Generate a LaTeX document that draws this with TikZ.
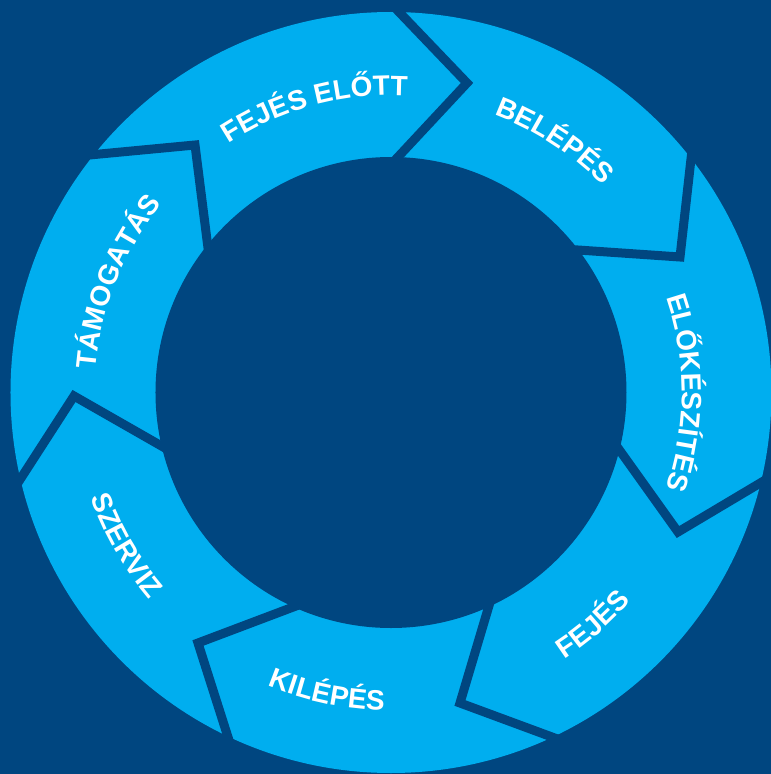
\documentclass[tikz,border=0pt]{standalone}
\usepackage{fontspec}
\setmainfont{Liberation Sans}
\usetikzlibrary{decorations.text}

\definecolor{navyblue}{RGB}{0,70,128}
\definecolor{ringblue}{RGB}{0,174,239}
\newcommand{\ringfont}{\fontsize{28}{30}\selectfont\bfseries\color{white}}

\begin{document}
\begin{tikzpicture}[x=1pt, y=1pt,
    divider/.style={draw=navyblue, line width=9pt, line join=miter, shorten <=-30pt, shorten >=-30pt},
    ringlabel/.style={decorate, decoration={text along path, text align=center, text={|\ringfont|#1}}}]
    % Background and ring
    \fill[navyblue] (-391,-381.5) rectangle (380,392.5);
    \useasboundingbox (-391,-381.5) rectangle (380,392.5);
    \fill[ringblue] (0,0) circle[radius=380.5pt];

    % Divider corners: outer edge, arrow tip, inner edge
    \coordinate (a-out) at (-291,238.5);
    \coordinate (a-tip) at (-196,247.5);
    \coordinate (a-in)  at (-184,152.5);
    \coordinate (b-out) at (9,379.5);
    \coordinate (b-tip) at (76,309.5);
    \coordinate (b-in)  at (7,235.5);
    \coordinate (c-out) at (300,233.5);
    \coordinate (c-tip) at (289,135.5);
    \coordinate (c-in)  at (187,142.5);
    \coordinate (d-out) at (376,-86.5);
    \coordinate (d-tip) at (287,-139.5);
    \coordinate (d-in)  at (232,-62.5);
    \coordinate (e-out) at (161,-344.5);
    \coordinate (e-tip) at (69,-310.5);
    \coordinate (e-in)  at (97,-216.5);
    \coordinate (f-out) at (-164,-341.5);
    \coordinate (f-tip) at (-193,-250.5);
    \coordinate (f-in)  at (-103,-216.5);
    \coordinate (g-out) at (-368,-82.5);
    \coordinate (g-tip) at (-317,-3.5);
    \coordinate (g-in)  at (-233,-51.5);

    \draw[divider] (a-out) -- (a-tip) -- (a-in);
    \draw[divider] (b-out) -- (b-tip) -- (b-in);
    \draw[divider] (c-out) -- (c-tip) -- (c-in);
    \draw[divider] (d-out) -- (d-tip) -- (d-in);
    \draw[divider] (e-out) -- (e-tip) -- (e-in);
    \draw[divider] (f-out) -- (f-tip) -- (f-in);
    \draw[divider] (g-out) -- (g-tip) -- (g-in);

    % Hole in the middle
    \fill[navyblue] (0,0) circle[radius=235.5pt];

    % Labels: clockwise on top, counterclockwise below
    \path[ringlabel={FEJÉS ELŐTT}] (150:297pt) arc[start angle=150, end angle=60, radius=297pt];
    \path[ringlabel={BELÉPÉS}] (102:296pt) arc[start angle=102, end angle=12, radius=296pt];
    \path[ringlabel={ELŐKÉSZÍTÉS}] (45:291pt) arc[start angle=45, end angle=-45, radius=291pt];
    \path[ringlabel={FEJÉS}] (-94:318pt) arc[start angle=-94, end angle=-4, radius=318pt];
    \path[ringlabel={KILÉPÉS}] (-147:318pt) arc[start angle=-147, end angle=-57, radius=318pt];
    \path[ringlabel={SZERVIZ}] (-195:318pt) arc[start angle=-195, end angle=-105, radius=318pt];
    \path[ringlabel={TÁMOGATÁS}] (203:296pt) arc[start angle=203, end angle=113, radius=296pt];
\end{tikzpicture}
\end{document}
